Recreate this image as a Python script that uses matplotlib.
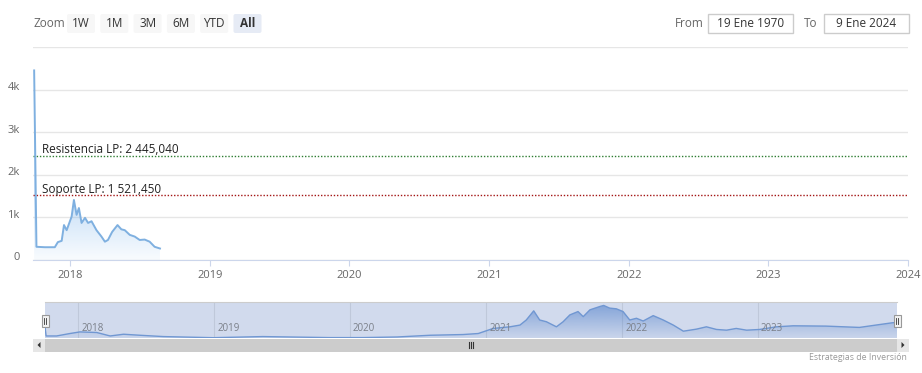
import numpy as np
import pandas as pd
import matplotlib
matplotlib.use("Agg")
import matplotlib.pyplot as plt
import matplotlib.dates as mdates
import matplotlib.colors as mcolors
import matplotlib.transforms as mtransforms
from matplotlib.patches import Polygon, Rectangle, FancyBboxPatch

plt.rcParams['font.family'] = ['Open Sans', 'DejaVu Sans']

# main series (shown range)
main_dates = ["2017-09-29", "2017-10-05", "2017-10-27", "2017-11-22", "2017-11-30",
              "2017-12-10", "2017-12-16", "2017-12-23", "2018-01-05", "2018-01-11",
              "2018-01-18", "2018-01-24", "2018-01-31", "2018-02-09", "2018-02-17",
              "2018-02-26", "2018-03-11", "2018-03-24", "2018-04-02", "2018-04-10",
              "2018-04-21", "2018-05-05", "2018-05-15", "2018-05-24", "2018-06-06",
              "2018-06-19", "2018-07-02", "2018-07-15", "2018-07-28", "2018-08-10",
              "2018-08-24"]
main_values = [4450, 310, 300, 300, 420, 450, 820, 700, 1020, 1410,
               1060, 1220, 870, 990, 870, 910, 700, 550, 430, 470,
               660, 820, 720, 700, 590, 550, 470, 480, 430, 310, 270]

# navigator series (full history)
nav_dates = ["2017-10-03", "2017-10-06", "2017-11-03", "2017-12-09", "2018-01-05",
             "2018-02-19", "2018-03-27", "2018-05-02", "2018-06-15", "2018-08-17",
             "2018-12-29", "2019-05-11", "2019-11-06", "2020-02-04", "2020-05-06",
             "2020-08-03", "2020-10-30", "2020-12-10", "2021-01-19", "2021-03-05",
             "2021-04-01", "2021-04-18", "2021-05-08", "2021-05-24", "2021-06-11",
             "2021-07-08", "2021-07-26", "2021-08-13", "2021-09-04", "2021-09-18",
             "2021-10-06", "2021-11-02", "2021-11-12", "2021-11-28", "2021-12-16",
             "2022-01-03", "2022-01-21", "2022-02-08", "2022-02-26", "2022-03-25",
             "2022-04-21", "2022-05-18", "2022-06-14", "2022-07-19", "2022-08-15",
             "2022-09-11", "2022-10-08", "2022-11-03", "2022-12-01", "2023-01-05",
             "2023-02-19", "2023-04-05", "2023-07-02", "2023-09-30", "2023-11-13",
             "2023-12-28", "2024-01-09"]
nav_values = [3300, 600, 600, 1320, 1800, 1620, 600, 1110, 810, 420,
              90, 420, 120, 120, 300, 810, 1020, 1320, 2820, 3300,
              3810, 5310, 8010, 5310, 4800, 3300, 4800, 6810, 7800, 6300,
              8310, 9300, 9600, 8820, 8610, 7800, 5310, 5820, 5010, 6600,
              5310, 3810, 2010, 2610, 3300, 2520, 2310, 2820, 2310, 2520,
              3300, 3600, 3510, 3120, 3810, 4500, 4560]

resistance = 2445.040
support = 1521.450
resistance_label = "Resistencia LP: 2 445,040"
support_label = "Soporte LP: 1 521,450"
years = [2018, 2019, 2020, 2021, 2022, 2023, 2024]
y_ticks = [0, 1000, 2000, 3000, 4000, 5000]
y_labels = ["0", "1k", "2k", "3k", "4k", ""]
buttons = ["1W", "1M", "3M", "6M", "YTD", "All"]
date_from = "19 Ene 1970"
date_to = "9 Ene 2024"

W, H = 922, 373
fig = plt.figure(figsize=(W / 100, H / 100), dpi=100)


def box(x0, y0, x1, y1):
    return [x0 / W, 1 - y1 / H, (x1 - x0) / W, (y1 - y0) / H]


def gradient_area(ax, x, y, color, a_lo, a_hi, y_full, y_top):
    xn = mdates.date2num(x)
    ys = np.linspace(0, y_top, 256)
    alpha = a_lo + (a_hi - a_lo) * np.clip(ys / y_full, 0, 1)
    img = np.zeros((256, 1, 4))
    img[..., :3] = mcolors.to_rgb(color)
    img[:, 0, 3] = alpha
    im = ax.imshow(img, extent=[xn.min(), xn.max(), 0, y_top], origin='lower',
                   aspect='auto', interpolation='bilinear', zorder=1)
    verts = np.column_stack([np.r_[xn[0], xn, xn[-1]], np.r_[0, y, 0]])
    poly = Polygon(verts, closed=True, facecolor='none', edgecolor='none')
    ax.add_patch(poly)
    im.set_clip_path(poly)


md = pd.to_datetime(main_dates)
nd = pd.to_datetime(nav_dates)
year_dates = [pd.Timestamp(year=y, month=1, day=1) for y in years]

# ---- main chart
ax = fig.add_axes(box(33, 47, 908, 260))
gradient_area(ax, md, np.array(main_values), '#7cb5ec', 0.05, 0.45, 1500, 5000)
ax.plot(md, main_values, color='#7fb0e0', lw=1.4, zorder=3)
ax.axhline(resistance, color='#2e7d32', lw=1, ls=(0, (1, 1.3)), zorder=2)
ax.axhline(support, color='#a31515', lw=1, ls=(0, (1, 1.3)), zorder=2)
ax.annotate(resistance_label, xy=(0, resistance), xycoords=ax.get_yaxis_transform(),
            xytext=(6.5, 1.8), textcoords='offset points', fontsize=8.5, color='#222222')
ax.annotate(support_label, xy=(0, support), xycoords=ax.get_yaxis_transform(),
            xytext=(6.5, 1.8), textcoords='offset points', fontsize=8.5, color='#222222')

ax.set_xlim(pd.Timestamp("2017-09-26"), pd.Timestamp("2023-12-29"))
ax.set_ylim(0, 5000)
ax.set_yticks(y_ticks)
ax.set_yticklabels(y_labels)
ax.set_xticks(year_dates)
ax.set_xticklabels([str(y) for y in years])
ax.grid(axis='y', color='#e6e6e6', lw=1)
ax.set_axisbelow(True)
for s in ['top', 'right', 'left']:
    ax.spines[s].set_visible(False)
ax.spines['bottom'].set_color('#ccd6eb')
ax.tick_params(axis='y', length=0, pad=9.5, labelsize=8, labelcolor='#666666')
ax.tick_params(axis='x', length=4, color='#ccd6eb', pad=3, labelsize=8, labelcolor='#666666')
for lbl in ax.get_yticklabels():
    lbl.set_transform(lbl.get_transform() + mtransforms.ScaledTranslation(0, 0.035, fig.dpi_scale_trans))

# ---- navigator
nav = fig.add_axes(box(45, 302, 897, 338))
nav.set_facecolor('#d1daed')
gradient_area(nav, nd, np.array(nav_values), '#3f74c6', 0.05, 0.55, 10000, 10620)
nav.plot(nd, nav_values, color='#7097d2', lw=1, zorder=3)
nav.set_xlim(nd[0], nd[-1])
nav.set_ylim(0, 10620)
nav.set_xticks([])
nav.set_yticks([])
for s in nav.spines.values():
    s.set_visible(False)
nav.spines['top'].set_visible(True)
nav.spines['top'].set_color('#cccccc')
for d, y in zip(year_dates[:-1], years[:-1]):
    dn = mdates.date2num(d)
    nav.axvline(dn, color='#bfc8da', lw=0.8, zorder=0.5)
    nav.annotate(str(y), xy=(dn, 0.27), xycoords=nav.get_xaxis_transform(),
                 xytext=(2, 0), textcoords='offset points', fontsize=7,
                 color='#7a7f88', va='center', zorder=4)

# ---- UI overlay (range selector, inputs, scrollbar, handles)
ui = fig.add_axes([0, 0, 1, 1], facecolor='none')
ui.set_xlim(0, W)
ui.set_ylim(H, 0)
ui.axis('off')

ui.text(33, 23.5, "Zoom", fontsize=8.5, color='#666666', va='center', ha='left')
bx = 67
for b in buttons:
    fc = '#e6ebf5' if b == 'All' else '#f7f7f7'
    ui.add_patch(FancyBboxPatch((bx, 14), 28, 19, boxstyle='round,pad=0,rounding_size=2',
                                facecolor=fc, edgecolor='none'))
    ui.text(bx + 14, 23.5, b, fontsize=8.5, color='#333333', ha='center', va='center',
            fontweight='bold' if b == 'All' else 'normal')
    bx += 33.3

ui.text(675, 23.5, "From", fontsize=8.5, color='#666666', va='center', ha='left')
ui.add_patch(Rectangle((708, 14), 85, 19, facecolor='white', edgecolor='#cccccc', lw=1))
ui.text(750.5, 23.5, date_from, fontsize=8.5, color='#333333', va='center', ha='center')
ui.text(804, 23.5, "To", fontsize=8.5, color='#666666', va='center', ha='left')
ui.add_patch(Rectangle((824, 14), 85, 19, facecolor='white', edgecolor='#cccccc', lw=1))
ui.text(866.5, 23.5, date_to, fontsize=8.5, color='#333333', va='center', ha='center')

# scrollbar
ui.add_patch(Rectangle((33, 338.5), 876, 13, facecolor='#f2f2f2', edgecolor='none'))
ui.add_patch(Rectangle((45, 338.5), 852, 13, facecolor='#cccccc', edgecolor='none'))
ui.add_patch(Rectangle((33, 338.5), 12, 13, facecolor='#e6e6e6', edgecolor='none'))
ui.add_patch(Rectangle((897, 338.5), 12, 13, facecolor='#e6e6e6', edgecolor='none'))
ui.add_patch(Polygon([[40.5, 342], [40.5, 348], [37.5, 345]], closed=True, facecolor='#333333'))
ui.add_patch(Polygon([[901.5, 342], [901.5, 348], [904.5, 345]], closed=True, facecolor='#333333'))
for dx in (-2, 0, 2):
    ui.plot([471 + dx, 471 + dx], [342, 348], color='#333333', lw=0.8)

# handles
for hx in (45, 897):
    ui.add_patch(Rectangle((hx - 3.5, 315), 7, 12, facecolor='#f2f2f2', edgecolor='#999999', lw=0.8))
    ui.plot([hx - 1, hx - 1], [318, 324], color='#333333', lw=0.6)
    ui.plot([hx + 1, hx + 1], [318, 324], color='#333333', lw=0.6)

ui.text(907, 357, "Estrategias de Inversión", fontsize=6.3, color='#999999', ha='right', va='center')

fig.savefig("out.png", dpi=100)
